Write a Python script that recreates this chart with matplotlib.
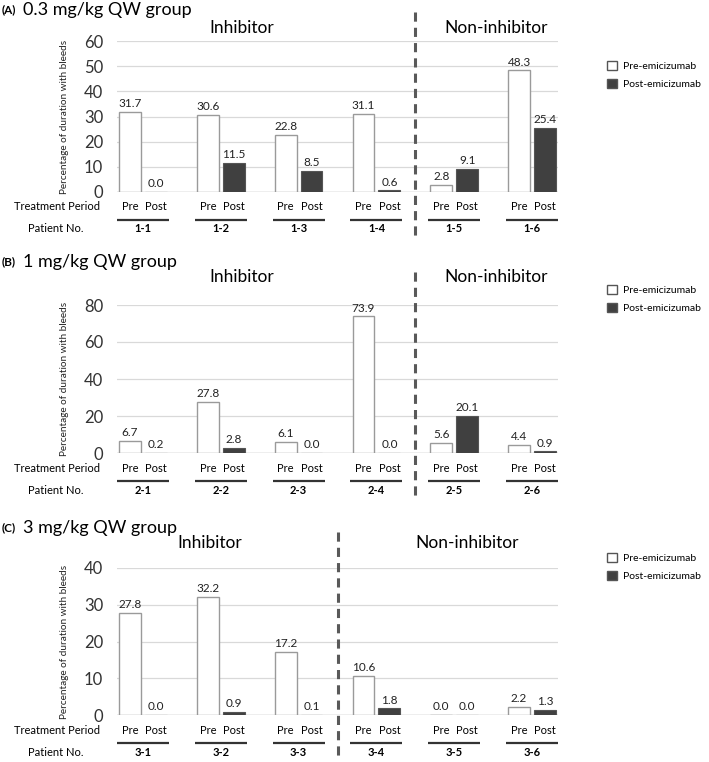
import matplotlib.pyplot as plt
import matplotlib.transforms as mtransforms
from matplotlib.patches import Patch

plt.rcParams['font.family'] = ['Lato', 'DejaVu Sans']

W, H = 709, 762

panel_tags = ["(A)", "(B)", "(C)"]
panel_titles = ["0.3 mg/kg QW group", "1 mg/kg QW group", "3 mg/kg QW group"]
patients_a = ["1-1", "1-2", "1-3", "1-4", "1-5", "1-6"]
patients_b = ["2-1", "2-2", "2-3", "2-4", "2-5", "2-6"]
patients_c = ["3-1", "3-2", "3-3", "3-4", "3-5", "3-6"]
pre_a = [31.7, 30.6, 22.8, 31.1, 2.8, 48.3]
post_a = [0.0, 11.5, 8.5, 0.6, 9.1, 25.4]
pre_b = [6.7, 27.8, 6.1, 73.9, 5.6, 4.4]
post_b = [0.2, 2.8, 0.0, 0.0, 20.1, 0.9]
pre_c = [27.8, 32.2, 17.2, 10.6, 0.0, 2.2]
post_c = [0.0, 0.9, 0.1, 1.8, 0.0, 1.3]
y_max = [60, 80, 40]
y_step = [10, 20, 10]
n_inhibitor = [4, 4, 3]

# layout in pixels: (axes top, axes bottom, title y, group label y, dash top, dash bottom, legend y)
layout = [
    (41, 192, 10, 28, 12, 238, 71),
    (305, 453, 262, 277, 272, 498, 295),
    (568, 715, 528, 543, 532, 758, 563),
]
# group label x positions in pixels (inhibitor, non-inhibitor)
group_x = [(242, 496), (242, 496), (210, 467)]

ax_left, ax_right = 117, 558
pre_color = "white"
post_color = "#404040"
edge = "#9a9a9a"

fig = plt.figure(figsize=(W / 100, H / 100), dpi=100)

data = [(patients_a, pre_a, post_a), (patients_b, pre_b, post_b), (patients_c, pre_c, post_c)]

for k, (patients, pre, post) in enumerate(data):
    top, bot, ty, gy, d0, d1, ly = layout[k]
    ax = fig.add_axes([ax_left / W, 1 - bot / H, (ax_right - ax_left) / W, (bot - top) / H])
    n = len(patients)
    x = list(range(n))
    off = 1 / 6
    bw = 0.28
    ax.bar([i - off for i in x], pre, bw, color=pre_color, edgecolor=edge, linewidth=1.0, zorder=3)
    ax.bar([i + off for i in x], post, bw, color=post_color, edgecolor="#555555", linewidth=0.8, zorder=3)
    for i in x:
        ax.annotate(f"{pre[i]:.1f}", (i - off, pre[i]), xytext=(0, 2), textcoords="offset points",
                    ha="center", va="bottom", fontsize=8.5, color="#222222")
        ax.annotate(f"{post[i]:.1f}", (i + off, post[i]), xytext=(0, 2), textcoords="offset points",
                    ha="center", va="bottom", fontsize=8.5, color="#222222")

    ax.set_xlim(-1 / 3, n - 1 + 1 / 3)
    ax.set_ylim(0, y_max[k])
    ax.set_yticks(range(0, y_max[k] + 1, y_step[k]))
    ax.tick_params(axis="y", length=0, pad=10, labelsize=12, labelcolor="#333333")
    ax.set_xticks([])
    for s in ax.spines.values():
        s.set_visible(False)
    ax.grid(axis="y", color="#d9d9d9", linewidth=0.9, zorder=0)
    ax.axhline(0, color="#bfbfbf", linewidth=1.0, zorder=2)
    ax.set_ylabel("Percentage of duration with bleeds", fontsize=7.2, labelpad=11, color="#222222")

    # rows under the axis, offset in pixels
    def below(px):
        return mtransforms.blended_transform_factory(ax.transData, ax.transAxes) + \
            mtransforms.ScaledTranslation(0, -px / 100, fig.dpi_scale_trans)
    for i in x:
        ax.text(i - off, 0, "Pre", transform=below(15), ha="center", va="center", fontsize=8)
        ax.text(i + off, 0, "Post", transform=below(15), ha="center", va="center", fontsize=8)
        ax.plot([i - 1 / 3, i + 1 / 3], [0, 0], transform=below(28), color="#333333", lw=1.6,
                clip_on=False, solid_capstyle="butt")
        ax.text(i, 0, patients[i], transform=below(37), ha="center", va="center",
                fontsize=8, fontweight="bold")
    fig.text(100 / W, 1 - (bot + 15) / H, "Treatment Period", ha="right", va="center", fontsize=8)
    fig.text(28 / W, 1 - (bot + 37) / H, "Patient No.", ha="left", va="center", fontsize=8)

    # divider between inhibitor and non-inhibitor
    tr = mtransforms.blended_transform_factory(ax.transData, fig.transFigure)
    xd = n_inhibitor[k] - 0.5
    ax.plot([xd, xd], [1 - d0 / H, 1 - d1 / H], transform=tr, color="#595959", lw=2.2,
            dashes=(3, 2), clip_on=False, zorder=4)

    fig.text(2 / W, 1 - ty / H, panel_tags[k], ha="left", va="center", fontsize=8.5, fontweight="bold")
    fig.text(23 / W, 1 - ty / H, panel_titles[k], ha="left", va="center", fontsize=13)
    fig.text(group_x[k][0] / W, 1 - gy / H, "Inhibitor", ha="center", va="center", fontsize=12.5)
    fig.text(group_x[k][1] / W, 1 - gy / H, "Non-inhibitor", ha="center", va="center", fontsize=12.5)

    handles = [Patch(facecolor=pre_color, edgecolor="#555555", label="Pre-emicizumab"),
               Patch(facecolor=post_color, edgecolor="#555555", label="Post-emicizumab")]
    ax.legend(handles=handles, loc="upper left", bbox_to_anchor=(607 / W, 1 - (ly - 10) / H),
              bbox_transform=fig.transFigure, frameon=False, fontsize=7.5, handlelength=0.95,
              handleheight=0.95, handletextpad=0.6, labelspacing=0.8, borderaxespad=0, borderpad=0)

fig.savefig("out.png", dpi=100)
